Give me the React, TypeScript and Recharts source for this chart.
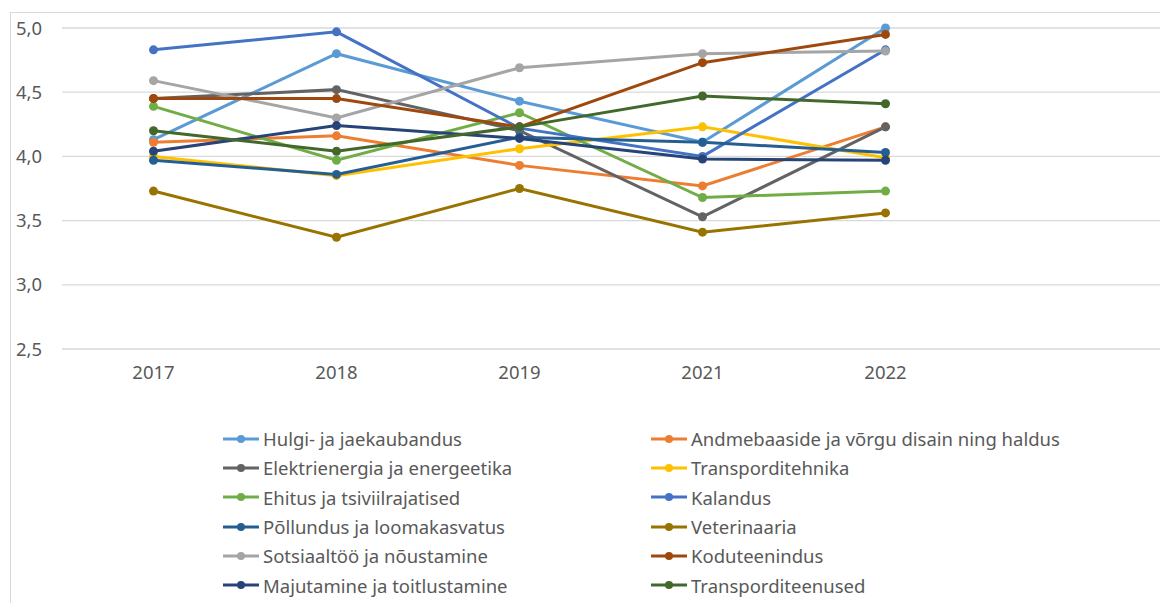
import { LineChart, Line, XAxis, YAxis, CartesianGrid, Legend } from 'recharts';

// aastad (viimane veerg on tühi, nagu Exceli graafikul)
const years = ['2017', '2018', '2019', '2021', '2022', ''];

const hulgi = [4.13, 4.8, 4.43, 4.11, 5.0];
const andmebaasid = [4.11, 4.16, 3.93, 3.77, 4.23];
const elekter = [4.45, 4.52, 4.2, 3.53, 4.23];
const transpTehnika = [4.0, 3.85, 4.06, 4.23, 3.99];
const ehitus = [4.39, 3.97, 4.34, 3.68, 3.73];
const kalandus = [4.83, 4.97, 4.22, 4.0, 4.83];
const pollundus = [3.97, 3.86, 4.15, 4.11, 4.03];
const veterinaaria = [3.73, 3.37, 3.75, 3.41, 3.56];
const sotsiaaltoo = [4.59, 4.3, 4.69, 4.8, 4.82];
const koduteenindus = [4.45, 4.45, 4.23, 4.73, 4.95];
const majutamine = [4.04, 4.24, 4.14, 3.98, 3.97];
const transpTeenused = [4.2, 4.04, 4.23, 4.47, 4.41];

const yTicks = [2.5, 3.0, 3.5, 4.0, 4.5, 5.0];

const series = [
  { key: 'hulgi', name: 'Hulgi- ja jaekaubandus', color: '#5B9BD5', values: hulgi },
  { key: 'andmebaasid', name: 'Andmebaaside ja võrgu disain ning haldus', color: '#ED7D31', values: andmebaasid },
  { key: 'elekter', name: 'Elektrienergia ja energeetika', color: '#636363', values: elekter },
  { key: 'transpTehnika', name: 'Transporditehnika', color: '#FFC000', values: transpTehnika },
  { key: 'ehitus', name: 'Ehitus ja tsiviilrajatised', color: '#70AD47', values: ehitus },
  { key: 'kalandus', name: 'Kalandus', color: '#4472C4', values: kalandus },
  { key: 'pollundus', name: 'Põllundus ja loomakasvatus', color: '#255E91', values: pollundus },
  { key: 'veterinaaria', name: 'Veterinaaria', color: '#997300', values: veterinaaria },
  { key: 'sotsiaaltoo', name: 'Sotsiaaltöö ja nõustamine', color: '#A5A5A5', values: sotsiaaltoo },
  { key: 'koduteenindus', name: 'Koduteenindus', color: '#9E480E', values: koduteenindus },
  { key: 'majutamine', name: 'Majutamine ja toitlustamine', color: '#264478', values: majutamine },
  { key: 'transpTeenused', name: 'Transporditeenused', color: '#43682B', values: transpTeenused },
];

const data = years.map((year, i) => {
  const row: Record<string, string | number | null> = { year };
  series.forEach(s => {
    row[s.key] = s.values[i] ?? null;
  });
  return row;
});

const FONT = '"Noto Sans", sans-serif';
const TEXT = '#595959';
const FS = 18.5;

// legend samas järjekorras nagu seeriad (Exceli moodi, kaks veergu)
function LegendGrid() {
  return (
    <div
      style={{
        display: 'grid',
        gridTemplateColumns: '428px 470px',
        fontFamily: FONT,
        fontSize: FS,
        color: TEXT,
      }}
    >
      {series.map(s => (
        <div key={s.key} style={{ display: 'flex', alignItems: 'center', height: 29.3 }}>
          <svg width={38} height={12} style={{ marginRight: 3, flexShrink: 0 }}>
            <line x1={1} y1={6} x2={37} y2={6} stroke={s.color} strokeWidth={3} />
            <circle cx={19} cy={6} r={4} fill={s.color} />
          </svg>
          <span style={{ whiteSpace: 'nowrap' }}>{s.name}</span>
        </div>
      ))}
    </div>
  );
}

export default function App() {
  return (
    <div style={{ position: 'absolute', left: 0, top: 0, width: 1160, height: 603, overflow: 'hidden', background: '#fff' }}>
      {/* diagrammi raam */}
      <div
        style={{
          position: 'absolute',
          left: 10,
          top: 12,
          width: 1200,
          height: 700,
          borderLeft: '1px solid #D9D9D9',
          borderTop: '1px solid #D9D9D9',
        }}
      />
      <LineChart
        width={1160}
        height={603}
        data={data}
        margin={{ top: 28, right: 0, left: 12, bottom: 224 }}
        style={{ position: 'absolute', left: 0, top: 0 }}
      >
        <CartesianGrid vertical={false} stroke="#D9D9D9" strokeWidth={1.3} />
        <XAxis
          dataKey="year"
          axisLine={false}
          tickLine={false}
          tickSize={0}
          tickMargin={17}
          height={30}
          interval={0}
          padding={{ left: 91.5, right: 91.5 }}
          tick={{ fill: TEXT, fontSize: FS, fontFamily: FONT }}
        />
        <YAxis
          domain={[2.5, 5]}
          ticks={yTicks}
          width={50}
          axisLine={false}
          tickLine={false}
          tickSize={0}
          tickMargin={20}
          tickFormatter={(v: number) => v.toFixed(1).replace('.', ',')}
          tick={{ fill: TEXT, fontSize: FS, fontFamily: FONT }}
        />
        <Legend
          layout="vertical"
          align="center"
          verticalAlign="middle"
          wrapperStyle={{ left: 222, top: 424, width: 920 }}
          content={<LegendGrid />}
        />
        {series.map(s => (
          <Line
            key={s.key}
            dataKey={s.key}
            name={s.name}
            stroke={s.color}
            strokeWidth={3}
            dot={{ r: 4.5, fill: s.color, stroke: s.color, strokeWidth: 0 }}
            activeDot={false}
            isAnimationActive={false}
          />
        ))}
      </LineChart>
    </div>
  );
}
